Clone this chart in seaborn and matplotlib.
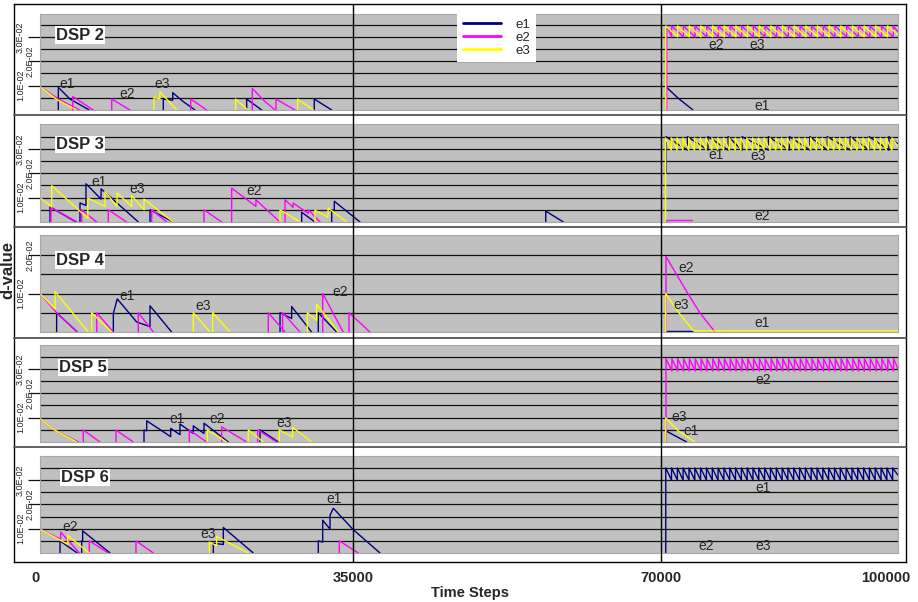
import numpy as np
import pandas as pd
import matplotlib
matplotlib.use("Agg")
import matplotlib.pyplot as plt
import matplotlib.transforms as mtransforms
from matplotlib.lines import Line2D
import seaborn as sns

# ---------------- data ----------------
series_names = ["e1", "e2", "e3"]
series_colors = ["#000080", "#FF00FF", "#FFFF00"]
panel_titles = ["DSP 2", "DSP 3", "DSP 4", "DSP 5", "DSP 6"]
x_ticks = [0, 35000, 70000, 100000]
x_tick_labels = ["0", "35000", "70000", "100000"]
section_marks = [35000, 70000]
t_end = 100000
panel_ymax = [0.0394, 0.0402, 0.0252, 0.0398, 0.0399]
panel_yticks = [[0.01, 0.02, 0.03], [0.01, 0.02, 0.03], [0.01, 0.02],
                [0.01, 0.02, 0.03], [0.01, 0.02, 0.03]]
ytick_text = {0.01: "1.0E-02", 0.02: "2.0E-02", 0.03: "3.0E-02"}

# DSP 2
d2_e1 = [([2050, 2050, 3350, 5510], [0, 0.0093, 0.0045, 0]),
         ([13790, 13790, 14840, 14840, 16000, 17330], [0, 0.0045, 0.0040, 0.0071, 0.0035, 0]),
         ([23110, 23110, 24790], [0, 0.0045, 0]),
         ([30670, 30670, 32620], [0, 0.0045, 0]),
         ([70600, 72190, 74050], [0.0096, 0.0048, 0])]
d2_e2 = [([0, 0, 2100, 4400], [0, 0.0096, 0.0044, 0]),
         ([3660, 3660, 5960], [0, 0.0055, 0]),
         ([8020, 8020, 10060], [0, 0.0045, 0]),
         ([16850, 16850, 18640], [0, 0.0045, 0]),
         ([23740, 23740, 25000, 26280], [0, 0.0089, 0.0040, 0]),
         ([26390, 26390, 28510], [0, 0.0045, 0])]
d2_e3 = [([0, 0, 1900, 4100], [0, 0.0096, 0.0042, 0]),
         ([12750, 12750, 13400, 13400, 15300], [0, 0.0052, 0.0045, 0.0075, 0]),
         ([21880, 21880, 23250], [0, 0.0045, 0]),
         ([28810, 28810, 30560], [0, 0.0045, 0])]
d2_e2_teeth = dict(rise=70720, start=0, lo=0.0300, hi=0.0345, end=0.0320,
                   jumps=[71350, 72840, 74310, 75790, 77260, 78740, 80220, 81690, 83170, 84640,
                          86120, 87600, 89070, 90550, 92020, 93500, 94980, 96450, 97930, 99400])
d2_e3_teeth = dict(rise=70600, start=0, lo=0.0300, hi=0.0345, end=0.0310,
                   jumps=[72100, 73580, 75050, 76530, 78000, 79480, 80960, 82430, 83910, 85380,
                          86860, 88340, 89810, 91290, 92760, 94240, 95720, 97190, 98670])
d2_notes = [("e1", 2990, 0.0107), ("e2", 9760, 0.0064), ("e3", 13640, 0.0108),
            ("e2", 76960, 0.0266), ("e3", 82190, 0.0266), ("e1", 82750, 0.0016)]

# DSP 3
d3_e1 = [([1120, 1120, 4030], [0, 0.0062, 0]),
         ([4470, 4470, 5140, 5140, 6830, 6830, 11000], [0, 0.0078, 0.0068, 0.0157, 0.0094, 0.0136, 0]),
         ([12300, 12300, 14900], [0, 0.0050, 0]),
         ([29260, 29260, 30750], [0, 0.0040, 0]),
         ([32620, 32620, 32910, 32910, 35800], [0, 0.0050, 0.0047, 0.0085, 0]),
         ([56900, 56900, 58900], [0, 0.0045, 0])]
d3_e2 = [([1230, 1230, 4140], [0, 0.0060, 0]),
         ([4660, 4660, 6340], [0, 0.0050, 0]),
         ([7640, 7640, 9690], [0, 0.0050, 0]),
         ([12490, 12490, 14170], [0, 0.0050, 0]),
         ([18340, 18340, 20320], [0, 0.0050, 0]),
         ([21430, 21430, 24140, 24140, 26840], [0, 0.0139, 0.0064, 0.0091, 0]),
         ([27400, 27400, 28300, 28300, 30000, 30000, 31310], [0, 0.0091, 0.0060, 0.0078, 0.0035, 0.0050, 0]),
         ([70600, 70600, 73900], [0, 0.0007, 0.0007])]
d3_e3 = [([0, 0, 1310, 1310, 5350, 5350, 7270, 7270, 8610, 8610, 10250, 10250, 11630, 11630, 14900],
          [0, 0.0100, 0.0062, 0.0149, 0.0015, 0.0098, 0.0064, 0.0125, 0.0064, 0.0119, 0.0064, 0.0108,
           0.0050, 0.0094, 0]),
         ([26840, 26840, 29070], [0, 0.0050, 0]),
         ([30750, 30750, 32210, 32210, 34300], [0, 0.0048, 0.0020, 0.0058, 0])]
d3_e1_teeth = dict(rise=70620, start=0.0200, lo=0.0295, hi=0.0350, end=0.0320,
                   jumps=[73350, 75950, 78500, 80250, 83600, 86250, 88850, 91050, 93950, 96350, 98850])
d3_e3_teeth = dict(rise=70570, start=0, lo=0.0295, hi=0.0345, end=0.0310,
                   jumps=[71300, 72040, 72780, 73500, 74240, 74990, 75710, 76450, 77190, 77920,
                          78650, 79400, 80120, 80860, 81600, 82330, 83050, 83800, 84540, 85270,
                          86000, 86750, 87470, 88210, 88950, 89680, 90410, 91160, 91880, 92620,
                          93360, 94090, 94820, 95570, 96290, 97030, 97770, 98500, 99230])
d3_notes = [("e1", 6600, 0.0165), ("e3", 10900, 0.0134), ("e2", 23930, 0.0128),
            ("e1", 76960, 0.0276), ("e3", 82320, 0.0269), ("e2", 82750, 0.0023)]

# DSP 4
d4_e1 = [([1860, 1860, 4170], [0, 0.0050, 0]),
         ([8200, 8200, 8640, 10810, 12300, 12300, 14720], [0, 0.0048, 0.0086, 0.0026, 0.0014, 0.0068, 0]),
         ([26840, 26840, 28140, 28140, 30370], [0, 0.0050, 0.0035, 0.0066, 0]),
         ([31120, 31120, 33170], [0, 0.0050, 0]),
         ([70600, 74050], [0.0003, 0.0003])]
d4_e2 = [([0, 0, 1860, 4170], [0, 0.0100, 0.0050, 0]),
         ([6340, 6340, 8200], [0, 0.0050, 0]),
         ([10990, 10990, 12670], [0, 0.0050, 0]),
         ([25530, 25530, 27400], [0, 0.0050, 0]),
         ([27130, 27130, 29070], [0, 0.0050, 0]),
         ([31610, 31610, 33900], [0, 0.0100, 0]),
         ([34550, 34550, 36930], [0, 0.0050, 0]),
         ([70630, 70630, 73250, 74940, 76840], [0, 0.0196, 0.0105, 0.0049, 0])]
d4_e3 = [([0, 0, 1680, 1680, 5400], [0, 0.0100, 0.0060, 0.0105, 0]),
         ([5780, 5780, 8020], [0, 0.0050, 0]),
         ([17140, 17140, 19010], [0, 0.0050, 0]),
         ([19310, 19310, 21250], [0, 0.0050, 0]),
         ([29890, 29890, 30940, 30940, 33360], [0, 0.0050, 0.0030, 0.0072, 0]),
         ([70600, 70600, 72000, 74100, 100000], [0, 0.0100, 0.0057, 0.0003, 0.0003])]
d4_notes = [("e1", 9690, 0.0094), ("e3", 18230, 0.0068), ("e2", 33600, 0.0104),
            ("e2", 73250, 0.0167), ("e3", 72490, 0.0070), ("e1", 82750, 0.0023)]

# DSP 5
d5_e1 = [([11630, 11630, 11930, 11930, 14610, 14610, 15650, 15650, 17140, 17140, 18340, 18340, 21050],
          [0, 0.0049, 0.0046, 0.0087, 0.0022, 0.0056, 0.0030, 0.0074, 0.0035, 0.0066, 0.0035, 0.0077, 0]),
         ([24600, 24600, 26650], [0, 0.0050, 0]),
         ([70600, 70600, 73250], [0, 0.0046, 0])]
d5_e2 = [([0, 0, 1490, 4300], [0, 0.0097, 0.0052, 0]),
         ([4840, 4840, 6710], [0, 0.0049, 0]),
         ([8500, 8500, 10430], [0, 0.0049, 0]),
         ([16700, 16700, 18640], [0, 0.0049, 0]),
         ([20320, 20320, 23110], [0, 0.0062, 0]),
         ([24340, 24340, 26470], [0, 0.0050, 0])]
d5_e3 = [([0, 0, 1490, 4100], [0, 0.0097, 0.0052, 0]),
         ([18710, 18710, 20870], [0, 0.0050, 0]),
         ([23290, 23290, 24970], [0, 0.0050, 0]),
         ([26760, 26760, 28250, 28250, 30380], [0, 0.0050, 0.0020, 0.0060, 0]),
         ([70600, 70600, 72100, 74300], [0, 0.0099, 0.0048, 0])]
d5_e2_teeth = dict(rise=70630, start=0, lo=0.0291, hi=0.0342, end=0.0300,
                   jumps=[71380, 72110, 72860, 73590, 74330, 75080, 75810, 76550, 77280, 78030,
                          78760, 79500, 80250, 80980, 81720, 82460, 83190, 83940, 84670, 85410,
                          86150, 86890, 87630, 88360, 89110, 89840, 90580, 91320, 92060, 92800,
                          93530, 94280, 95010, 95750, 96490, 97230, 97960, 98710, 99440])
d5_notes = [("e1", 15290, 0.0094), ("e2", 19850, 0.0094), ("e3", 27280, 0.0078),
            ("e2", 82910, 0.0254), ("e3", 72280, 0.0104), ("e1", 73760, 0.0046)]

# DSP 6
d6_e1 = [([2240, 2240, 4170], [0, 0.0050, 0]),
         ([4660, 4660, 4770, 4770, 7830], [0, 0.0050, 0.0049, 0.0091, 0]),
         ([19380, 19380, 20500, 20500, 23850], [0, 0.0040, 0.0035, 0.0105, 0]),
         ([31120, 31120, 31610, 31610, 32430, 32430, 32800, 35000, 38070],
          [0, 0.0050, 0.0045, 0.0135, 0.0098, 0.0155, 0.0184, 0.0097, 0])]
d6_e2 = [([0, 0, 2310, 2310, 4400], [0, 0.0098, 0.0057, 0.0086, 0]),
         ([5510, 5510, 7640], [0, 0.0050, 0]),
         ([10730, 10730, 12670], [0, 0.0050, 0]),
         ([33470, 33470, 35600], [0, 0.0050, 0])]
d6_e3 = [([0, 0, 3100, 3100, 5510], [0, 0.0098, 0.0036, 0.0072, 0]),
         ([18930, 18930, 19750, 19750, 23290], [0, 0.0045, 0.0030, 0.0068, 0])]
d6_e1_teeth = dict(rise=70600, start=0, lo=0.0300, hi=0.0350, end=0.0320,
                   jumps=[71330, 72070, 72800, 73540, 74280, 75010, 75750, 76490, 77220, 77960,
                          78700, 79430, 80170, 80910, 81640, 82380, 83120, 83850, 84590, 85330,
                          86060, 86800, 87540, 88270, 89010, 89750, 90480, 91220, 91960, 92690,
                          93430, 94170, 94900, 95640, 96380, 97110, 97850, 98590, 99320])
d6_notes = [("e2", 3350, 0.0108), ("e3", 18840, 0.0079), ("e1", 32870, 0.0223),
            ("e1", 82870, 0.0269), ("e2", 75780, 0.0027), ("e3", 82950, 0.0027)]

panels = [
    ({"e1": d2_e1, "e2": d2_e2, "e3": d2_e3}, {"e2": d2_e2_teeth, "e3": d2_e3_teeth}, d2_notes),
    ({"e1": d3_e1, "e2": d3_e2, "e3": d3_e3}, {"e1": d3_e1_teeth, "e3": d3_e3_teeth}, d3_notes),
    ({"e1": d4_e1, "e2": d4_e2, "e3": d4_e3}, {}, d4_notes),
    ({"e1": d5_e1, "e2": d5_e2, "e3": d5_e3}, {"e2": d5_e2_teeth}, d5_notes),
    ({"e1": d6_e1, "e2": d6_e2, "e3": d6_e3}, {"e1": d6_e1_teeth}, d6_notes),
]


def build_frame(episodes_map, teeth_map):
    rows = []
    uid = 0
    for name, episodes in episodes_map.items():
        for ts, vs in episodes:
            for t, v in zip(ts, vs):
                rows.append((name, uid, t, v))
            uid += 1
    for name, tt in teeth_map.items():
        rows.append((name, uid, tt["rise"], tt["start"]))
        rows.append((name, uid, tt["rise"], tt["hi"]))
        for t in tt["jumps"]:
            rows.append((name, uid, t, tt["lo"]))
            rows.append((name, uid, t, tt["hi"]))
        rows.append((name, uid, t_end, tt["end"]))
        uid += 1
    return pd.DataFrame(rows, columns=["series", "episode", "t", "v"])


# ---------------- layout ----------------
W, H = 918, 602
sns.set_style("white")
plt.rcParams["font.family"] = ["Liberation Sans", "DejaVu Sans"]

fig = plt.figure(figsize=(W / 100, H / 100), dpi=100)
fig.patch.set_facecolor("white")

# piecewise x mapping (px from panel left edge) as drawn in the reference
knot_t = np.array([0.0, 35000.0, 70000.0, 100000.0])
knot_p = np.array([0.0, 313.0, 621.0, 858.0])


def fwd(x):
    return np.interp(np.asarray(x, dtype=float), knot_t, knot_p)


def inv(p):
    return np.interp(np.asarray(p, dtype=float), knot_p, knot_t)


def fx(px):
    return px / W


def fy(py):
    return 1 - py / H


# outer frame
frame = fig.add_axes([fx(14), fy(562), fx(892), 558 / H], zorder=-1)
frame.set_xticks([]); frame.set_yticks([])
frame.set_facecolor("white")
for s in frame.spines.values():
    s.set_color("black"); s.set_linewidth(1.0)

panel_px = [(14, 110), (124, 222), (235, 332), (345, 442), (456, 553)]
title_pos = [(0.0186, 0.781), (0.0186, 0.791), (0.0186, 0.742), (0.0222, 0.768), (0.0245, 0.778)]
palette = dict(zip(series_names, series_colors))

axes = []
for i, ((top, bot), (epis, teeth, notes)) in enumerate(zip(panel_px, panels)):
    ax = fig.add_axes([fx(40), fy(bot), fx(858), (bot - top) / H])
    df = build_frame(epis, teeth)
    sns.lineplot(data=df, x="t", y="v", hue="series", units="episode", estimator=None,
                 sort=False, hue_order=series_names, palette=palette, legend=False,
                 linewidth=1.0, ax=ax)
    ax.set_xscale("function", functions=(fwd, inv))
    ax.set_xlim(0, t_end)
    ax.set_ylim(0, panel_ymax[i])
    ax.set_facecolor("#C0C0C0")
    for s in ax.spines.values():
        s.set_color("#A8A8A8"); s.set_linewidth(0.8)
    ax.set_xlabel(""); ax.set_ylabel("")
    # grid
    yt = panel_yticks[i]
    ax.set_yticks(yt)
    ax.set_yticklabels([ytick_text[v] for v in yt], rotation=90, va="center", fontsize=6.5)
    minor = [v for v in [0.005, 0.015, 0.025, 0.035] if v < panel_ymax[i] - 0.001]
    ax.set_yticks(minor, minor=True)
    ax.grid(True, axis="y", which="both", color="#111111", linewidth=0.9)
    ax.set_axisbelow(True)
    ax.tick_params(axis="y", which="major", direction="out", length=8.6, width=0.9,
                   color="#111111", left=True)
    ax.tick_params(axis="y", which="minor", length=0)
    ax.set_xticks(x_ticks)
    if i < 4:
        ax.tick_params(axis="x", length=0, labelbottom=False)
    else:
        ax.set_xticklabels(x_tick_labels, fontsize=10.5, fontweight="bold")
        ax.tick_params(axis="x", length=0, pad=13)
    ax.tick_params(axis="x", which="minor", length=0)
    for tk, val in zip(ax.yaxis.get_major_ticks(), yt):
        tk.set_pad(2.2 if val != 0.02 else -5.0)
    # title box
    ax.text(title_pos[i][0], title_pos[i][1], panel_titles[i], transform=ax.transAxes,
            fontsize=12, fontweight="bold", ha="left", va="center", zorder=5,
            bbox=dict(facecolor="white", edgecolor="none", pad=0.8))
    for lab, t, v in notes:
        ax.text(t, v, lab, fontsize=10, ha="center", va="center", zorder=5)
    axes.append(ax)

# shift first / last x tick label like the reference
bottom_labels = axes[-1].get_xticklabels()
bottom_labels[0].set_transform(bottom_labels[0].get_transform() +
                               mtransforms.ScaledTranslation(-4 / 100, 0, fig.dpi_scale_trans))
bottom_labels[-1].set_transform(bottom_labels[-1].get_transform() +
                                mtransforms.ScaledTranslation(-12 / 100, 0, fig.dpi_scale_trans))

# separators between panels
for py in [114.5, 227, 337.5, 447]:
    fig.add_artist(Line2D([fx(14), fx(906)], [fy(py), fy(py)], transform=fig.transFigure,
                          color="#555555", linewidth=1.3))

# section lines across all panels
over = fig.add_axes([fx(40), fy(563), fx(858), 559 / H], zorder=10)
over.set_xscale("function", functions=(fwd, inv))
over.set_xlim(0, t_end); over.set_ylim(0, 1)
for m in section_marks:
    over.axvline(m, color="black", linewidth=1.0)
over.axis("off")
over.patch.set_alpha(0)

# legend
handles = [Line2D([], [], color=c, linewidth=2.0) for c in series_colors]
fig.legend(handles, series_names, loc="upper left", bbox_to_anchor=(fx(457), fy(13)),
           bbox_transform=fig.transFigure, frameon=True, fancybox=False, framealpha=1,
           facecolor="white", edgecolor="none", fontsize=9.5, handlelength=2.9,
           handletextpad=1.1, labelspacing=0.05, borderpad=0.42, borderaxespad=0)

fig.text(fx(470), fy(593), "Time Steps", fontsize=10.5, fontweight="bold", ha="center", va="center")
fig.text(fx(8), fy(270), "d-value", fontsize=12, fontweight="bold", rotation=90,
         ha="center", va="center")

fig.savefig("out.png", dpi=100, facecolor="white")
